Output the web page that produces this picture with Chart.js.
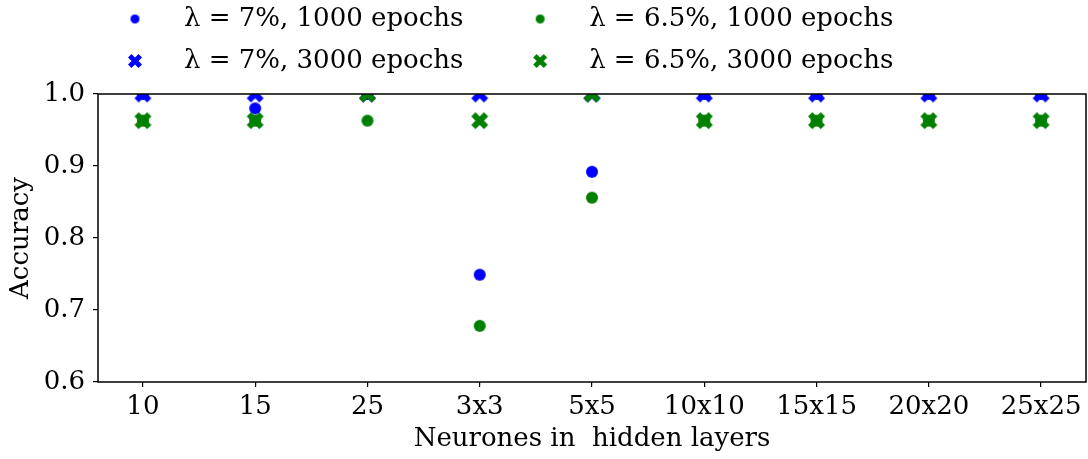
<!DOCTYPE html>
<html>
<head>
<meta charset="utf-8">
<script src="https://cdn.jsdelivr.net/npm/chart.js@4"></script>
<style>
  html, body { margin: 0; padding: 0; background: #fff; }
</style>
</head>
<body>
<canvas id="accChart" width="1088" height="459"></canvas>
<script>
// hidden layer configurations
const layers = ['10', '15', '25', '3x3', '5x5', '10x10', '15x15', '20x20', '25x25'];

// accuracy per configuration
const acc7_1000 = [1.0, 0.98, 1.0, 0.749, 0.892, 1.0, 1.0, 1.0, 1.0];
const acc7_3000 = [1.0, 1.0, 1.0, 1.0, 1.0, 1.0, 1.0, 1.0, 1.0];
const acc65_1000 = [0.963, 0.963, 0.963, 0.678, 0.856, 0.963, 0.963, 0.963, 0.963];
const acc65_3000 = [0.963, 0.963, 1.0, 0.963, 1.0, 0.963, 0.963, 0.963, 0.963];

const yTicks = [0.6, 0.7, 0.8, 0.9, 1.0];

const BLUE = '#0000ff';
const GREEN = '#008000';
const FONT = "'DejaVu Serif', serif";
const FS = 26;

function makeCircle(d, color) {
    const c = document.createElement('canvas');
    c.width = d + 2; c.height = d + 2;
    const g = c.getContext('2d');
    g.fillStyle = color;
    g.beginPath();
    g.arc(c.width / 2, c.height / 2, d / 2, 0, Math.PI * 2);
    g.fill();
    return c;
}

// thick filled "X" marker
function makeX(s, color) {
    const c = document.createElement('canvas');
    c.width = s + 2; c.height = s + 2;
    const g = c.getContext('2d');
    const pts = [[0.25, 0], [0.5, 0.25], [0.25, 0.5], [0, 0.25], [-0.25, 0.5], [-0.5, 0.25],
                 [-0.25, 0], [-0.5, -0.25], [-0.25, -0.5], [0, -0.25], [0.25, -0.5], [0.5, -0.25]];
    g.fillStyle = color;
    g.beginPath();
    pts.forEach(([px, py], i) => {
        const x = c.width / 2 + px * s, y = c.height / 2 - py * s;
        if (i === 0) g.moveTo(x, y); else g.lineTo(x, y);
    });
    g.closePath();
    g.fill();
    return c;
}

const toPoints = arr => arr.map((v, i) => ({ x: i, y: v }));

const legendMarks = [makeCircle(9, BLUE), makeCircle(9, GREEN), makeX(14, BLUE), makeX(14, GREEN)];

const datasets = [
    { label: 'λ = 7%, 1000 epochs', data: toPoints(acc7_1000), pointStyle: makeCircle(12, BLUE), order: 3 },
    { label: 'λ = 6.5%, 1000 epochs', data: toPoints(acc65_1000), pointStyle: makeCircle(12, GREEN), order: 2 },
    { label: 'λ = 7%, 3000 epochs', data: toPoints(acc7_3000), pointStyle: makeX(17, BLUE), order: 1 },
    { label: 'λ = 6.5%, 3000 epochs', data: toPoints(acc65_3000), pointStyle: makeX(17, GREEN), order: 0 }
].map(d => Object.assign(d, { showLine: false, clip: 0, backgroundColor: 'transparent', borderColor: 'transparent' }));

// box around the plotting area
const frame = {
    id: 'frame',
    afterDatasetsDraw(chart) {
        const { ctx, chartArea: a } = chart;
        ctx.save();
        ctx.strokeStyle = '#000';
        ctx.lineWidth = 1.5;
        ctx.strokeRect(a.left, a.top, a.right - a.left, a.bottom - a.top);
        ctx.restore();
    }
};

// nudge the legend block up and to the left
const legendShift = {
    id: 'legendShift',
    afterLayout(chart) {
        const l = chart.legend;
        l.left = 83;
        l.top -= 10;
        l.bottom -= 10;
    }
};

new Chart(document.getElementById('accChart'), {
    type: 'scatter',
    data: { datasets },
    plugins: [frame, legendShift],
    options: {
        responsive: false,
        animation: false,
        devicePixelRatio: 1,
        layout: { autoPadding: false, padding: { top: 0, right: 2, bottom: 0, left: 0 } },
        plugins: {
            tooltip: { enabled: false },
            legend: {
                position: 'top',
                align: 'start',
                maxWidth: 900,
                labels: {
                    usePointStyle: true,
                    pointStyleWidth: 72,
                    padding: 16,
                    color: '#000',
                    font: { family: FONT, size: FS },
                    sort: (a, b) => a.datasetIndex - b.datasetIndex,
                    generateLabels(chart) {
                        const items = Chart.defaults.plugins.legend.labels.generateLabels(chart);
                        items.forEach(it => {
                            it.pointStyle = legendMarks[it.datasetIndex];
                            // widen the left column so the two columns sit apart
                            if (it.datasetIndex % 2 === 0) it.text += '   ';
                        });
                        return items;
                    }
                }
            }
        },
        scales: {
            x: {
                type: 'linear',
                min: -0.4,
                max: 8.4,
                afterBuildTicks: axis => { axis.ticks = layers.map((_, i) => ({ value: i })); },
                ticks: {
                    color: '#000',
                    font: { family: FONT, size: FS },
                    padding: 5,
                    maxRotation: 0,
                    callback: v => layers[v]
                },
                grid: { drawOnChartArea: false, drawTicks: true, tickLength: 5, color: '#000', lineWidth: 1.2 },
                border: { display: false },
                title: { display: true, text: 'Neurones in  hidden layers', color: '#000', font: { family: FONT, size: FS }, padding: { top: 0, bottom: 4 } },
                afterFit: s => { s.height = 77; s.paddingLeft = 0; s.paddingRight = 0; }
            },
            y: {
                min: 0.6,
                max: 1.0,
                afterBuildTicks: axis => { axis.ticks = yTicks.map(v => ({ value: v })); },
                ticks: {
                    color: '#000',
                    font: { family: FONT, size: FS },
                    padding: 8,
                    callback: v => v.toFixed(1)
                },
                grid: { drawOnChartArea: false, drawTicks: true, tickLength: 5, color: '#000', lineWidth: 1.2 },
                border: { display: false },
                title: { display: true, text: 'Accuracy', color: '#000', font: { family: FONT, size: FS }, padding: { top: 6, bottom: 0 } },
                afterFit: s => { s.width = 98; }
            }
        }
    }
});
</script>
</body>
</html>
